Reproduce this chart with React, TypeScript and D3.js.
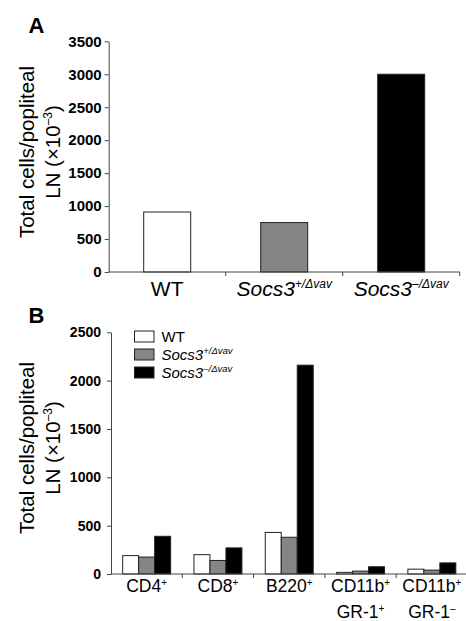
import React, { useEffect, useRef } from 'react';
import * as d3 from 'd3';

// Panel A: total cells per popliteal LN
const genotypes = ['WT', 'Socs3+', 'Socs3-'];
const totalCells = [910, 750, 3000];
const ticksA = [0, 500, 1000, 1500, 2000, 2500, 3000, 3500];

// Panel B: cell subsets
const subsets = ['CD4', 'CD8', 'B220', 'CD11b+GR-1+', 'CD11b+GR-1-'];
const wtValues = [190, 200, 430, 17, 50];
const hetValues = [175, 140, 380, 30, 40];
const koValues = [390, 270, 2160, 75, 115];
const ticksB = [0, 500, 1000, 1500, 2000, 2500];

const seriesNames = ['WT', 'Socs3+', 'Socs3-'];
const fills = ['#ffffff', '#858585', '#000000'];

const FONT = 'Liberation Sans, Arial, Helvetica, sans-serif';

// writes "Socs3" with its superscript, or plain WT
function genotypeLabel(sel: d3.Selection<SVGTextElement, unknown, null, undefined>, key: string, supSize: number, raise: number) {
  if (key === 'WT') {
    sel.append('tspan').text('WT');
    return;
  }
  sel.append('tspan').attr('font-style', 'italic').text('Socs3');
  sel.append('tspan')
    .attr('font-style', 'italic')
    .attr('font-size', supSize)
    .attr('dy', -raise)
    .text(key === 'Socs3+' ? '+/Δvav' : '–/Δvav');
}

export default function App() {
  const svgRef = useRef<SVGSVGElement>(null);

  useEffect(() => {
    if (!svgRef.current) return;
    const svg = d3.select(svgRef.current);
    svg.selectAll('*').remove();
    svg.attr('font-family', FONT);

    const axisColor = '#444';
    const fmt = d3.format('d');

    // ---------- Panel A ----------
    const xA = d3.scaleBand().domain(genotypes).range([108.7, 459.7]).padding(0);
    const yA = d3.scaleLinear().domain([0, 3500]).range([272, 41.3]);
    const barWA = 47;

    const gA = svg.append('g');

    gA.selectAll('rect.bar')
      .data(genotypes)
      .enter()
      .append('rect')
      .attr('class', 'bar')
      .attr('x', d => (xA(d) || 0) + xA.bandwidth() / 2 - barWA / 2)
      .attr('y', (d, i) => yA(totalCells[i]))
      .attr('width', barWA)
      .attr('height', (d, i) => yA(0) - yA(totalCells[i]))
      .attr('fill', (d, i) => fills[i])
      .attr('stroke', '#222')
      .attr('stroke-width', 1);

    const yAxisA = gA.append('g')
      .attr('transform', `translate(${xA.range()[0]},0)`)
      .call(d3.axisLeft(yA).tickValues(ticksA).tickFormat(d => fmt(d as number)).tickSize(4).tickSizeOuter(0).tickPadding(3));
    yAxisA.select('.domain').attr('stroke', axisColor);
    yAxisA.selectAll('.tick line').attr('stroke', axisColor);
    yAxisA.selectAll('.tick text')
      .attr('font-family', FONT)
      .attr('font-size', 15)
      .attr('font-weight', 'bold')
      .attr('fill', '#000');

    // x axis with ticks on band boundaries
    const [xa0, xa1] = xA.range();
    gA.append('line')
      .attr('x1', xa0).attr('x2', xa1)
      .attr('y1', yA(0)).attr('y2', yA(0))
      .attr('stroke', axisColor);
    gA.selectAll('line.xtick')
      .data(genotypes.map(d => xA(d) || 0).concat([xa1]).slice(1))
      .enter()
      .append('line')
      .attr('class', 'xtick')
      .attr('x1', d => d).attr('x2', d => d)
      .attr('y1', yA(0)).attr('y2', yA(0) + 4)
      .attr('stroke', axisColor);

    genotypes.forEach(g => {
      const t = gA.append('text')
        .attr('x', (xA(g) || 0) + xA.bandwidth() / 2)
        .attr('y', 296)
        .attr('text-anchor', 'middle')
        .attr('font-size', 21)
        .attr('fill', '#000');
      genotypeLabel(t as any, g, 12, 8);
    });

    // ---------- Panel B ----------
    const x0 = d3.scaleBand().domain(subsets).range([111, 467.5]).padding(0);
    const x1 = d3.scaleBand().domain(seriesNames).range([0, x0.bandwidth()]).paddingInner(0).paddingOuter(0.73);
    const yB = d3.scaleLinear().domain([0, 2500]).range([574, 332.3]);
    const seriesValues = [wtValues, hetValues, koValues];

    const gB = svg.append('g');

    seriesNames.forEach((s, si) => {
      gB.selectAll(`rect.s${si}`)
        .data(subsets)
        .enter()
        .append('rect')
        .attr('class', `s${si}`)
        .attr('x', d => (x0(d) || 0) + (x1(s) || 0))
        .attr('y', (d, i) => yB(seriesValues[si][i]))
        .attr('width', x1.bandwidth())
        .attr('height', (d, i) => yB(0) - yB(seriesValues[si][i]))
        .attr('fill', fills[si])
        .attr('stroke', '#222')
        .attr('stroke-width', 1);
    });

    const yAxisB = gB.append('g')
      .attr('transform', `translate(${x0.range()[0]},0)`)
      .call(d3.axisLeft(yB).tickValues(ticksB).tickFormat(d => fmt(d as number)).tickSize(4).tickSizeOuter(0).tickPadding(6));
    yAxisB.select('.domain').attr('stroke', axisColor);
    yAxisB.selectAll('.tick line').attr('stroke', axisColor);
    yAxisB.selectAll('.tick text')
      .attr('font-family', FONT)
      .attr('font-size', 14)
      .attr('font-weight', 'bold')
      .attr('fill', '#000');

    const [xb0, xb1] = x0.range();
    gB.append('line')
      .attr('x1', xb0).attr('x2', xb1)
      .attr('y1', yB(0)).attr('y2', yB(0))
      .attr('stroke', axisColor);
    gB.selectAll('line.xtick')
      .data(subsets.map(d => x0(d) || 0).slice(1))
      .enter()
      .append('line')
      .attr('class', 'xtick')
      .attr('x1', d => d).attr('x2', d => d)
      .attr('y1', yB(0)).attr('y2', yB(0) + 4)
      .attr('stroke', axisColor);

    // x labels: marker name with superscript sign, two lines for myeloid subsets
    const labelLines: [string, string][][] = [
      [['CD4', '+']],
      [['CD8', '+']],
      [['B220', '+']],
      [['CD11b', '+'], ['GR-1', '+']],
      [['CD11b', '+'], ['GR-1', '–']],
    ];
    subsets.forEach((s, i) => {
      labelLines[i].forEach(([main, sup], li) => {
        const t = gB.append('text')
          .attr('x', (x0(s) || 0) + x0.bandwidth() / 2)
          .attr('y', 592 + li * 26)
          .attr('text-anchor', 'middle')
          .attr('font-size', 17.5)
          .attr('fill', '#000');
        t.append('tspan').text(main);
        t.append('tspan').attr('font-size', 10).attr('dy', -6).text(sup);
      });
    });

    // legend
    const legend = gB.append('g').attr('transform', 'translate(134.5,331)');
    seriesNames.forEach((s, i) => {
      const row = legend.append('g').attr('transform', `translate(0,${i * 18})`);
      row.append('rect')
        .attr('width', 19.5)
        .attr('height', 11)
        .attr('fill', fills[i])
        .attr('stroke', '#222');
      const t = row.append('text')
        .attr('x', 27)
        .attr('y', 11)
        .attr('font-size', 15)
        .attr('fill', '#000');
      genotypeLabel(t as any, s, 9.5, 6);
    });

    // y-axis titles and panel letters
    const yTitle = (cy: number) => {
      const g = svg.append('g');
      g.append('text')
        .attr('transform', `translate(34,${cy}) rotate(-90)`)
        .attr('text-anchor', 'middle')
        .attr('font-size', 20.5)
        .attr('fill', '#000')
        .text('Total cells/popliteal');
      const t2 = g.append('text')
        .attr('transform', `translate(59.5,${cy}) rotate(-90)`)
        .attr('text-anchor', 'middle')
        .attr('font-size', 20.5)
        .attr('fill', '#000');
      t2.append('tspan').text('LN (×10');
      t2.append('tspan').attr('font-size', 12).attr('dy', -8).text('–3');
      t2.append('tspan').attr('dy', 8).text(')');
    };
    yTitle(152);
    yTitle(448);

    svg.append('text').attr('x', 28.5).attr('y', 33).attr('font-size', 22).attr('font-weight', 'bold').text('A');
    svg.append('text').attr('x', 28.5).attr('y', 323).attr('font-size', 22).attr('font-weight', 'bold').text('B');
  }, []);

  return (
    <svg
      ref={svgRef}
      width={466}
      height={621}
      style={{ position: 'absolute', left: 0, top: 0, background: '#fff' }}
    />
  );
}
